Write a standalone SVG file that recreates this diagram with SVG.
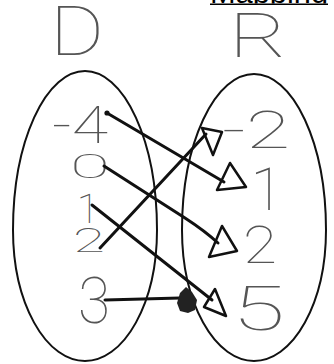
<svg xmlns="http://www.w3.org/2000/svg" width="334" height="364" viewBox="0 0 334 364">
  <defs>
    <style>
      .hw { font-family: Roboto, "DejaVu Sans", sans-serif; font-weight: 100; fill: #555; }
      .set { fill: none; stroke: #111; stroke-width: 2; }
      .arr { fill: none; stroke: #111; stroke-width: 3; stroke-linecap: round; stroke-linejoin: round; }
      .head { fill: none; stroke: #111; stroke-width: 2.5; stroke-linejoin: round; }
      .title { font-family: "Liberation Sans", Arial, sans-serif; font-size: 30px; fill: #000; }
    </style>
    <clipPath id="topclip"><rect x="0" y="0" width="334" height="3.6"/></clipPath>
  </defs>
  <rect width="334" height="364" fill="#fff"/>

  <g id="title">
    <text class="title" x="210" y="2.5" textLength="118" lengthAdjust="spacingAndGlyphs" clip-path="url(#topclip)">Mapping</text>
    <line x1="210" y1="4.2" x2="328" y2="4.2" stroke="#000" stroke-width="1.6"/>
  </g>

  <g id="domain-label"><text class="hw" x="50" y="55" font-size="68" textLength="54" lengthAdjust="spacingAndGlyphs">D</text></g>
  <g id="range-label"><text class="hw" x="229" y="57" font-size="62" textLength="58" lengthAdjust="spacingAndGlyphs">R</text></g>

  <g id="domain-set"><path class="set" d="M13,230 A72,159 0 0 1 157,230 A72,131 0 0 1 13,230 Z"/></g>
  <g id="range-set"><path class="set" d="M182,230 A72,156 0 0 1 326,230 A72,131 0 0 1 182,230 Z"/></g>

  <g id="d-neg4"><text class="hw" x="52" y="143" font-size="52" textLength="56" lengthAdjust="spacingAndGlyphs">-4</text></g>
  <g id="d-0"><text class="hw" x="70" y="178" font-size="34" textLength="40" lengthAdjust="spacingAndGlyphs">0</text></g>
  <g id="d-1"><text class="hw" x="88" y="223" font-size="41" text-anchor="middle">1</text></g>
  <g id="d-2"><text class="hw" x="73" y="252" font-size="34" textLength="32" lengthAdjust="spacingAndGlyphs">2</text></g>
  <g id="d-3"><text class="hw" x="78" y="323" font-size="64" textLength="32" lengthAdjust="spacingAndGlyphs">3</text></g>

  <g id="r-neg2"><text class="hw" x="222" y="148" font-size="52" textLength="68" lengthAdjust="spacingAndGlyphs">-2</text></g>
  <g id="r-1"><text class="hw" x="267" y="210" font-size="60" text-anchor="middle">1</text></g>
  <g id="r-2"><text class="hw" x="243" y="263" font-size="52" textLength="34" lengthAdjust="spacingAndGlyphs">2</text></g>
  <g id="r-5"><text class="hw" x="232" y="330" font-size="62" textLength="53" lengthAdjust="spacingAndGlyphs">5</text></g>

  <g id="connectors">
    <path class="arr" d="M107,113 L224,182"/>
    <circle cx="107" cy="113" r="2.6" fill="#111"/>
    <polygon class="head" points="230,163 246,187 217,190"/>
    <path class="arr" d="M104,166 L185,218 Q205,231 218,243"/>
    <polygon class="head" points="222,226 237,251 209,257"/>
    <path class="arr" d="M92,205 L212,300"/>
    <polygon class="head" points="215,289 226,316 204,307"/>
    <path class="arr" d="M100,248 L206,134"/>
    <polygon class="head" points="202,128 222,132 213,155"/>
    <path class="arr" d="M105,300 L180,298"/>
    <polygon points="180,293 186,287 192,292 197,300 195,310 188,313 180,311 177,303" fill="#222"/>
  </g>
</svg>
